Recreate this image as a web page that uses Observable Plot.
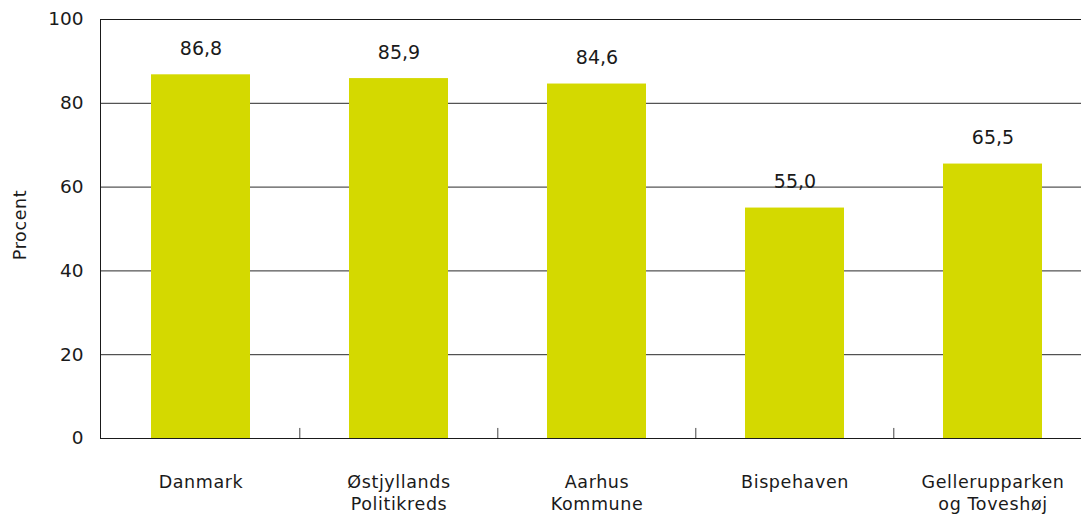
<!DOCTYPE html>
<html>
<head>
<meta charset="utf-8">
<script src="https://cdn.jsdelivr.net/npm/d3@7"></script>
<script src="https://cdn.jsdelivr.net/npm/@observablehq/plot@0.6"></script>
<style>
  html, body { margin: 0; padding: 0; background: #fff; }
  #chart svg { display: block; }
  #chart svg g[aria-label="x-axis tick label"] text { letter-spacing: 0.6px; }
  #chart svg g.ylab text { letter-spacing: 0.6px; }
</style>
</head>
<body>
<div id="chart"></div>
<script>
const categories = ["Danmark", "Østjyllands\nPolitikreds", "Aarhus\nKommune", "Bispehaven", "Gellerupparken\nog Toveshøj"];
const values = [86.8, 85.9, 84.6, 55.0, 65.5];
const yTicks = [0, 20, 40, 60, 80, 100];
const yLabel = "Procent";

const data = categories.map((c, i) => ({category: c, value: values[i]}));
const fmt = v => v.toFixed(1).replace(".", ",");

const chart = Plot.plot({
  width: 1081,
  height: 515,
  marginLeft: 100,
  marginRight: -11,
  marginTop: 19,
  marginBottom: 77,
  style: {fontFamily: "'DejaVu Sans', sans-serif", fontSize: "18px", color: "#1a1a1a", background: "#fff"},
  x: {domain: categories, paddingInner: 0.5, paddingOuter: 0.25, label: null},
  y: {domain: [0, 100], label: null},
  marks: [
    Plot.ruleY(yTicks, {stroke: "#2a2a2a", strokeWidth: 1}),
    Plot.barY(data, {x: "category", y: "value", fill: "#d4d900"}),
    Plot.frame({stroke: "#1a1a1a", strokeWidth: 1}),
    Plot.ruleX(categories.slice(1), {x: d => d, y1: 0, y2: 2.4, dx: -99.2, stroke: "#444", strokeWidth: 1}),
    Plot.axisY({ticks: yTicks, tickSize: 0, tickPadding: 17, fontSize: 18.5, label: null}),
    Plot.axisX({tickSize: 0, tickPadding: 33, fontSize: 17.5, lineHeight: 1.3, lineAnchor: "top", label: null}),
    Plot.text(data, {x: "category", y: "value", text: d => fmt(d.value), dy: -26, fontSize: 19, fill: "#1a1a1a"}),
    Plot.text([yLabel], {frameAnchor: "left", textAnchor: "middle", dx: -80, dy: -4, rotate: -90, text: d => d, fontSize: 17.5, fill: "#1a1a1a", className: "ylab"})
  ]
});
document.getElementById("chart").appendChild(chart);
</script>
</body>
</html>
